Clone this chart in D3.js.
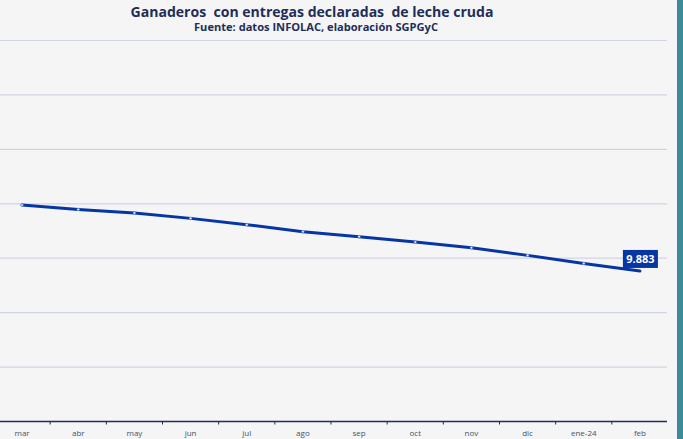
<!DOCTYPE html>
<html>
<head>
<meta charset="utf-8">
<script src="https://cdn.jsdelivr.net/npm/d3@7"></script>
<style>
  body { margin: 0; background: #f5f5f5; }
  svg { display: block; }
  .title { white-space: pre; }
</style>
</head>
<body>
<div id="chart"></div>
<script>
// months and number of dairy farmers
let months = ["mar", "abr", "may", "jun", "jul", "ago", "sep", "oct", "nov", "dic", "ene-24", "feb"]
let farmers = [10489, 10448, 10415, 10366, 10308, 10244, 10198, 10149, 10096, 10026, 9952, 9883]
let yTicks = [8500, 9000, 9500, 10000, 10500, 11000, 11500, 12000]

let width = 683
let height = 439

let svg = d3.select("#chart")
    .append("svg")
    .attr("width", width)
    .attr("height", height)

// paper like background
svg.append("rect")
    .attr("width", width)
    .attr("height", height)
    .attr("fill", "#f5f5f5")

// teal stripe on the right
svg.append("rect")
    .attr("x", 677)
    .attr("y", 0)
    .attr("width", 6)
    .attr("height", height)
    .attr("fill", "#3b8b99")

let xScale = d3.scaleBand()
    .domain(months)
    .range([-6, 668])

let yScale = d3.scaleLinear()
    .domain([8500, 12000])
    .range([421.5, 40.5])

// gridlines
svg.append("g")
    .selectAll("line")
    .data(yTicks.slice(1))
    .enter()
    .append("line")
    .attr("x1", 0)
    .attr("x2", 667)
    .attr("y1", d => yScale(d))
    .attr("y2", d => yScale(d))
    .attr("stroke", "#d0d5e2")
    .attr("stroke-width", 1.2)

// x axis
let xAxis = d3.axisBottom(xScale).tickSize(0).tickPadding(9)
let xAxisG = svg.append("g")
    .attr("transform", `translate(0, ${yScale(8500)})`)
    .call(xAxis)
xAxisG.select(".domain").remove()
xAxisG.selectAll("text")
    .attr("font-family", "'Open Sans', sans-serif")
    .attr("font-size", 8)
    .attr("fill", "#44546a")

svg.append("line")
    .attr("x1", 0)
    .attr("x2", 667)
    .attr("y1", yScale(8500))
    .attr("y2", yScale(8500))
    .attr("stroke", "#1f2d5a")
    .attr("stroke-width", 1.5)

// small ticks between months
svg.append("g")
    .selectAll("line")
    .data(months.slice(1))
    .enter()
    .append("line")
    .attr("x1", d => xScale(d))
    .attr("x2", d => xScale(d))
    .attr("y1", yScale(8500))
    .attr("y2", yScale(8500) + 3)
    .attr("stroke", "#1f2d5a")
    .attr("stroke-width", 1)

let cx = d => xScale(d) + xScale.bandwidth() / 2

let line = d3.line()
    .x((d, i) => cx(months[i]))
    .y(d => yScale(d))

svg.append("path")
    .datum(farmers)
    .attr("d", line)
    .attr("fill", "none")
    .attr("stroke", "#0536a3")
    .attr("stroke-width", 3)
    .attr("stroke-linecap", "round")

svg.append("g")
    .selectAll("circle")
    .data(farmers.slice(0, -1))
    .enter()
    .append("circle")
    .attr("cx", (d, i) => cx(months[i]))
    .attr("cy", d => yScale(d))
    .attr("r", 1.3)
    .attr("fill", "#e8ecf6")
    .attr("stroke", "#4a6fc0")
    .attr("stroke-width", 0.6)

// label on last value
let last = farmers[farmers.length - 1]
let lastX = cx(months[months.length - 1])
let lastY = yScale(last)
svg.append("rect")
    .attr("x", lastX - 17)
    .attr("y", lastY - 21)
    .attr("width", 35)
    .attr("height", 18)
    .attr("fill", "#0536a3")
svg.append("text")
    .attr("x", lastX + 0.5)
    .attr("y", lastY - 8)
    .attr("text-anchor", "middle")
    .attr("font-family", "'Open Sans', sans-serif")
    .attr("font-weight", "bold")
    .attr("font-size", 11)
    .attr("fill", "#ffffff")
    .text(d3.format(",")(last).replace(",", "."))

// titles
svg.append("text")
    .attr("class", "title")
    .attr("x", 312)
    .attr("y", 17)
    .attr("text-anchor", "middle")
    .attr("font-family", "'Open Sans', sans-serif")
    .attr("font-weight", "bold")
    .attr("font-size", 14.5)
    .attr("fill", "#1f2d5a")
    .attr("textLength", 363)
    .attr("lengthAdjust", "spacingAndGlyphs")
    .text("Ganaderos  con entregas declaradas  de leche cruda")

svg.append("text")
    .attr("x", 316)
    .attr("y", 31)
    .attr("text-anchor", "middle")
    .attr("font-family", "'Open Sans', sans-serif")
    .attr("font-weight", "bold")
    .attr("font-size", 10)
    .attr("fill", "#1f2d5a")
    .attr("textLength", 244)
    .attr("lengthAdjust", "spacingAndGlyphs")
    .text("Fuente: datos INFOLAC, elaboración SGPGyC")
</script>
</body>
</html>
